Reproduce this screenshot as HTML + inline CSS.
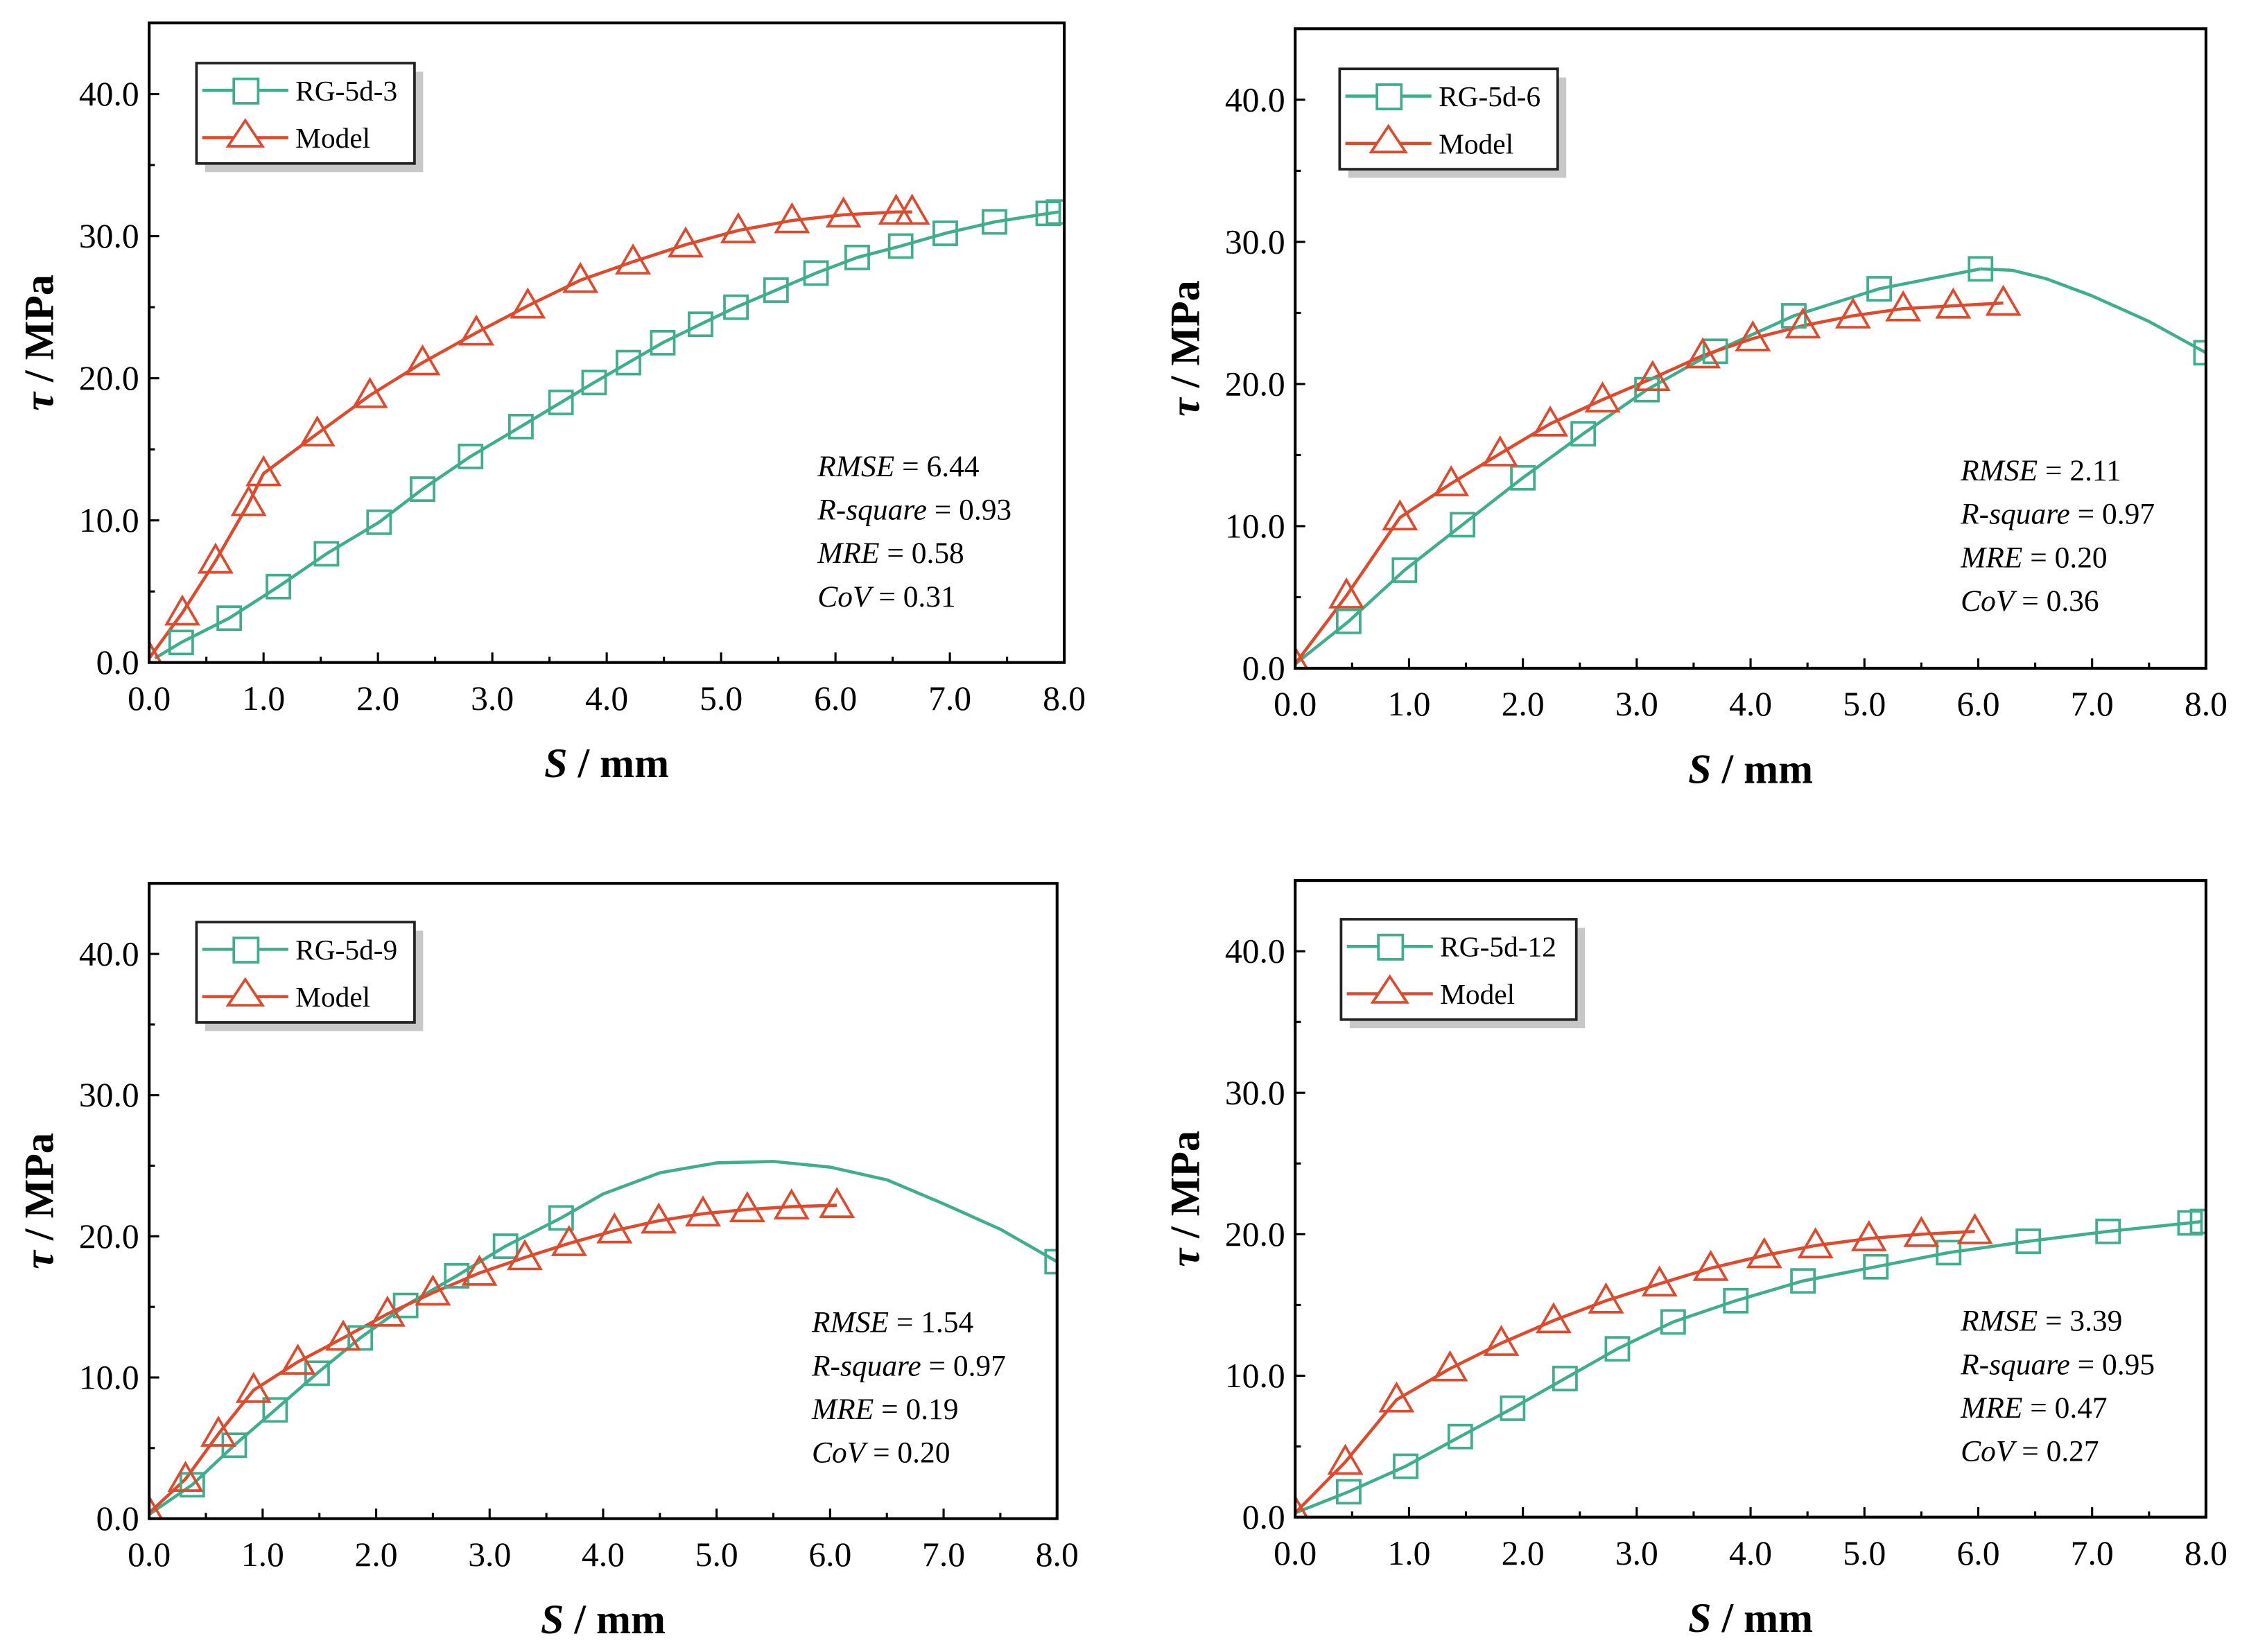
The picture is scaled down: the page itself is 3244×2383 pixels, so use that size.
<!DOCTYPE html>
<html><head><meta charset="utf-8"><style>
html,body{margin:0;padding:0;background:#fff;}
svg{display:block;}
</style></head><body>
<svg id="chart" width="3244" height="2383" viewBox="0 0 1568 1152" preserveAspectRatio="none" xmlns="http://www.w3.org/2000/svg" font-family="'Liberation Serif', serif"></svg>
<script>
// Panel 1 data
const p1ExpX=[0.05,0.28,0.70,1.13,1.55,2.01,2.39,2.81,3.25,3.60,3.89,4.19,4.49,4.82,5.13,5.48,5.83,6.19,6.57,6.96,7.39,7.86,7.95];
const p1ExpY=[0.3,1.41,3.12,5.34,7.65,9.87,12.2,14.5,16.6,18.3,19.7,21.1,22.5,23.8,25.0,26.2,27.4,28.5,29.3,30.2,31.0,31.6,31.7];
const p1ModX=[0.0,0.29,0.58,0.87,1.0,1.47,1.93,2.39,2.86,3.31,3.77,4.23,4.69,5.15,5.62,6.07,6.53,6.67];
const p1ModY=[0.3,3.5,7.15,11.2,13.3,16.1,18.8,21.1,23.2,25.1,26.9,28.2,29.4,30.4,31.1,31.5,31.7,31.7];
// Panel 2 data
const p2ExpX=[0.0,0.47,0.96,1.47,2.0,2.53,3.09,3.69,4.38,5.13,6.02];
const p2ExpY=[0.3,3.3,6.9,10.1,13.4,16.5,19.6,22.3,24.8,26.7,28.1];
const p2TailX=[6.02,6.3,6.6,7.0,7.5,8.0];
const p2TailY=[28.1,28.0,27.4,26.2,24.4,22.2];
const p2ModX=[0.0,0.45,0.92,1.37,1.80,2.24,2.70,3.14,3.58,4.02,4.46,4.90,5.34,5.78,6.22];
const p2ModY=[0.3,5.1,10.6,13.0,15.1,17.2,18.9,20.4,22.0,23.2,24.1,24.8,25.3,25.5,25.7];
// Panel 3 data
const p3ExpX=[0.0,0.38,0.75,1.11,1.48,1.86,2.26,2.71,3.14,3.63];
const p3ExpY=[0.3,2.4,5.2,7.7,10.3,12.8,15.1,17.2,19.3,21.3];
const p3TailX=[3.63,4.0,4.5,5.0,5.5,6.0,6.5,7.0,7.5,8.0];
const p3TailY=[21.3,23.0,24.5,25.2,25.3,24.9,24.0,22.3,20.5,18.2];
const p3ModX=[0.0,0.32,0.61,0.92,1.31,1.71,2.1,2.5,2.91,3.31,3.70,4.10,4.49,4.88,5.27,5.66,6.06];
const p3ModY=[0.4,2.8,6.0,9.1,11.1,12.8,14.5,16.0,17.4,18.5,19.5,20.4,21.1,21.6,21.9,22.1,22.2];
// Panel 4 data
const p4ExpX=[0.0,0.47,0.97,1.45,1.91,2.37,2.83,3.32,3.87,4.46,5.10,5.74,6.44,7.14,7.86,7.97];
const p4ExpY=[0.3,1.8,3.6,5.7,7.7,9.8,11.9,13.8,15.3,16.7,17.7,18.7,19.5,20.2,20.8,20.9];
const p4ModX=[0.0,0.44,0.89,1.36,1.81,2.27,2.73,3.20,3.65,4.12,4.57,5.04,5.50,5.97];
const p4ModY=[0.3,3.9,8.3,10.5,12.3,13.9,15.3,16.5,17.6,18.5,19.2,19.7,20.0,20.2];

const xTicks=["0.0","1.0","2.0","3.0","4.0","5.0","6.0","7.0","8.0"];
const yTicks=["0.0","10.0","20.0","30.0","40.0"];
const names=["RG-5d-3","RG-5d-6","RG-5d-9","RG-5d-12"];
const statsText=[["6.44","0.93","0.58","0.31"],["2.11","0.97","0.20","0.36"],["1.54","0.97","0.19","0.20"],["3.39","0.95","0.47","0.27"]];

const GREEN="#3fae8c", RED="#e04a2c";
const NS="http://www.w3.org/2000/svg";
const svg=document.getElementById('chart');
function mk(tag,attrs,parent,text){const e=document.createElementNS(NS,tag);for(const k in attrs)e.setAttribute(k,attrs[k]);if(text!==undefined)e.textContent=text;(parent||svg).appendChild(e);return e;}

const panels=[
 {L:104,R:742,T:16,B:462,exp:[p1ExpX,p1ExpY],tail:null,mod:[p1ModX,p1ModY],leg:[137,44],stat:[570,325]},
 {L:903,R:1538,T:20,B:466,exp:[p2ExpX,p2ExpY],tail:[p2TailX,p2TailY],mod:[p2ModX,p2ModY],leg:[934,48],stat:[1367,328]},
 {L:104,R:737,T:616,B:1059,exp:[p3ExpX,p3ExpY],tail:[p3TailX,p3TailY],mod:[p3ModX,p3ModY],leg:[137,643],stat:[566,922]},
 {L:903,R:1538,T:614,B:1058,exp:[p4ExpX,p4ExpY],tail:null,mod:[p4ModX,p4ModY],leg:[935,641],stat:[1367,921]}
];

panels.forEach((p,i)=>{
  const g=mk('g',{});
  
  
  const sx=v=>p.L+(v/8)*(p.R-p.L);
  const sy=v=>p.B-(v/45)*(p.B-p.T);
  for(let k=0;k<=16;k++){const x=sx(k*0.5);const len=k%2?4:7;
    const t=mk('line',{x1:x,x2:x,y1:p.B,y2:p.B-len,stroke:'#000','stroke-width':1.5},g);
    }
  for(let k=0;k<=9;k++){const y=sy(k*5);const len=k%2?4:7;
    const t=mk('line',{x1:p.L,x2:p.L+len,y1:y,y2:y,stroke:'#000','stroke-width':1.5},g);
    }
  xTicks.forEach((s,k)=>{const t=mk('text',{x:sx(parseFloat(s)),y:p.B+33,'text-anchor':'middle','font-size':24},g,s);
    });
  yTicks.forEach((s,k)=>{const t=mk('text',{x:p.L-7,y:sy(parseFloat(s))+8,'text-anchor':'end','font-size':24},g,s);
    });
  const xt=mk('text',{x:(p.L+p.R)/2,y:p.B+80,'text-anchor':'middle','font-size':29,'font-weight':'bold'},g);
  
  mk('tspan',{'font-style':'italic'},xt,'S');mk('tspan',{},xt,' / mm');
  const yt=mk('text',{x:0,y:0,transform:`translate(${p.L-67},${sy(22.5)}) rotate(-90)`,'text-anchor':'middle','font-size':29,'font-weight':'bold'},g);
  
  mk('tspan',{'font-style':'italic'},yt,'τ');mk('tspan',{},yt,' / MPa');
  const cid='clip'+i;
  const cp=mk('clipPath',{id:cid},g);mk('rect',{x:p.L,y:p.T,width:p.R-p.L,height:p.B-p.T},cp);
  const dg=mk('g',{'clip-path':`url(#${cid})`},g);
  function line(xs,ys,color,name){const pts=xs.map((x,j)=>sx(x)+','+sy(ys[j])).join(' ');
    const l=mk('polyline',{points:pts,fill:'none',stroke:color,'stroke-width':2.2,'stroke-linejoin':'round'},dg);
    }
  line(p.exp[0],p.exp[1],GREEN,'experiment-line');
  if(p.tail) line(p.tail[0],p.tail[1],GREEN,'experiment-tail-line');
  line(p.mod[0],p.mod[1],RED,'model-line');
  p.exp[0].forEach((x,j)=>{if(j===0)return;const s=mk('rect',{x:sx(x)-8,y:sy(p.exp[1][j])-8,width:16,height:16,fill:'none',stroke:GREEN,'stroke-width':1.8},dg);
    });
  if(p.tail){const n=p.tail[0].length-1;const s=mk('rect',{x:sx(p.tail[0][n])-8,y:sy(p.tail[1][n])-8,width:16,height:16,fill:'none',stroke:GREEN,'stroke-width':1.8},dg);
    }
  p.mod[0].forEach((x,j)=>{const cx=sx(x),c=sy(p.mod[1][j]);
    const tr=mk('polygon',{points:`${cx},${c-11} ${cx-11},${c+8} ${cx+11},${c+8}`,fill:'none',stroke:RED,'stroke-width':1.8},dg);
    });
  const fr=mk('rect',{x:p.L,y:p.T,width:p.R-p.L,height:p.B-p.T,fill:'none',stroke:'#000','stroke-width':2},g);
  
  const [lx,ly]=p.leg;const lw=i===3?164:152;
  const lg=mk('g',{},g);
  mk('rect',{x:lx+6,y:ly+6,width:lw,height:70,fill:'#c8c8c8'},lg);
  mk('rect',{x:lx,y:ly,width:lw,height:70,fill:'#fff',stroke:'#222','stroke-width':1.8},lg);
  const e1=mk('g',{},lg);
  mk('line',{x1:lx+4,x2:lx+64,y1:ly+19,y2:ly+19,stroke:GREEN,'stroke-width':2.2},e1);
  mk('rect',{x:lx+26,y:ly+11,width:17,height:17,fill:'#fff',stroke:GREEN,'stroke-width':1.8},e1);
  mk('text',{x:lx+69,y:ly+26,'font-size':20},e1,names[i]);
  const e2=mk('g',{},lg);
  mk('line',{x1:lx+4,x2:lx+64,y1:ly+52,y2:ly+52,stroke:RED,'stroke-width':2.2},e2);
  mk('polygon',{points:`${lx+34},${ly+40} ${lx+22},${ly+58} ${lx+46},${ly+58}`,fill:'#fff',stroke:RED,'stroke-width':1.8},e2);
  mk('text',{x:lx+69,y:ly+59,'font-size':20},e2,'Model');
  const labels=['RMSE','R-square','MRE','CoV'];
  const st=mk('g',{},g);
  labels.forEach((lb,k)=>{const t=mk('text',{x:p.stat[0],y:p.stat[1]+7+k*30.3,'font-size':21},st);
    mk('tspan',{'font-style':'italic'},t,lb);mk('tspan',{},t,' = '+statsText[i][k]);});
});
</script>
</body></html>
